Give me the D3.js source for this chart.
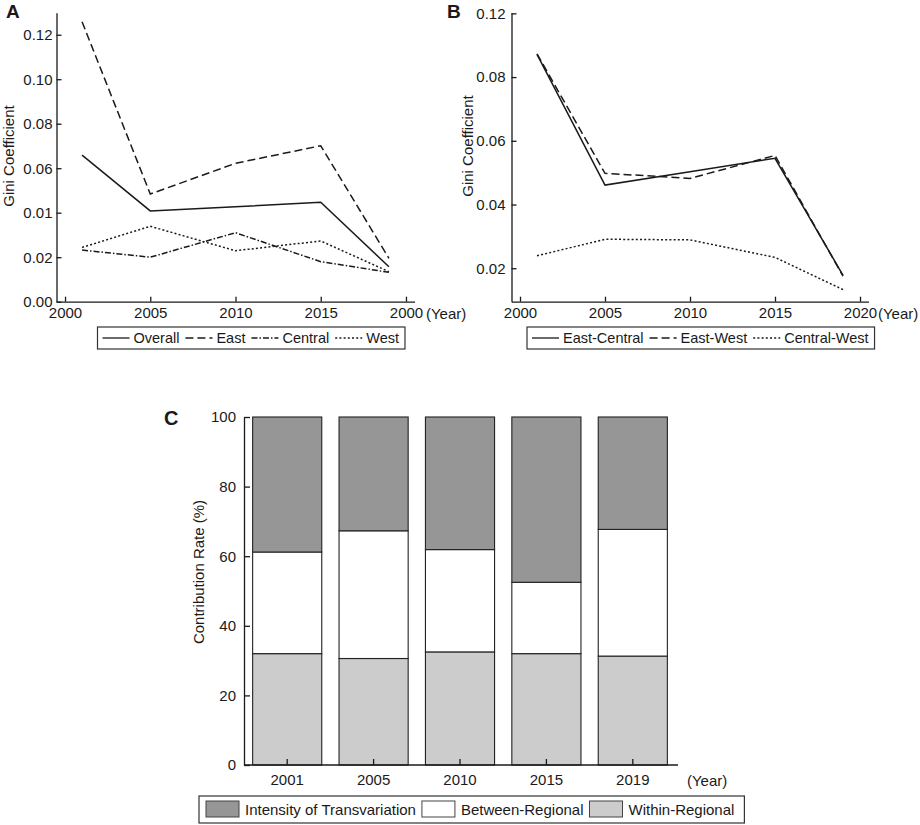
<!DOCTYPE html>
<meta charset="utf-8">
<script src="https://d3js.org/d3.v7.min.js"></script>
<style>
  body { margin: 0; background: #fff; }
  svg text { font-family: "Liberation Sans", Arial, sans-serif; fill: #1a1a1a; }
</style>
<div id="chart"></div>
<script>
    // ---- data ----
    var years = [2001, 2005, 2010, 2015, 2019];

    // panel A
    var overall = [0.0659, 0.0408, 0.0427, 0.0447, 0.0157];
    var east    = [0.1258, 0.0484, 0.0622, 0.0701, 0.0195];
    var central = [0.0232, 0.0200, 0.0310, 0.0180, 0.0132];
    var west    = [0.0244, 0.0339, 0.0229, 0.0273, 0.0135];
    var xTicksA = [2000, 2005, 2010, 2015, 2020];
    var xTickLabelsA = ["2000", "2005", "2010", "2015", "2000"];
    var yTicksA = [0, 0.02, 0.04, 0.06, 0.08, 0.10, 0.12];
    var yTickLabelsA = ["0.00", "0.02", "0.01", "0.06", "0.08", "0.10", "0.12"];

    // panel B
    var eastCentral = [0.0871, 0.0461, 0.0503, 0.0545, 0.0178];
    var eastWest    = [0.0873, 0.0498, 0.0482, 0.0554, 0.0175];
    var centralWest = [0.0239, 0.0291, 0.0289, 0.0234, 0.0133];
    var xTicksB = [2000, 2005, 2010, 2015, 2020];
    var xTickLabelsB = ["2000", "2005", "2010", "2015", "2020"];
    var yTicksB = [0.02, 0.04, 0.06, 0.08, 0.10];
    var yTickLabelsB = ["0.02", "0.04", "0.06", "0.08", "0.12"];

    // panel C (percent)
    var yearLabelsC = ["2001", "2005", "2010", "2015", "2019"];
    var withinRegional  = [32.0, 30.6, 32.5, 32.0, 31.3];
    var betweenRegional = [29.2, 36.7, 29.4, 20.5, 36.4];
    var transvariation  = [38.8, 32.7, 38.1, 47.5, 32.3];
    var yTicksC = [0, 20, 40, 60, 80, 100];

    var width = 920, height = 825;
    var ink = "#1a1a1a";

    var svg = d3.select("#chart").append("svg")
        .attr("width", width)
        .attr("height", height);

    function styleAxis(g) {
        g.selectAll("path.domain").attr("stroke", ink).attr("stroke-width", 1.3);
        g.selectAll(".tick line").attr("stroke", ink).attr("stroke-width", 1.3);
        g.selectAll(".tick text").attr("fill", ink).style("font-size", "15px")
            .style("font-family", "'Liberation Sans', Arial, sans-serif");
    }

    // line styles per series
    var dashSolid = null, dashLong = "8,4", dashDot = "6,2,1.5,2", dashDotted = "2,2.2";

    function linePanel(opt) {
        var x = d3.scaleLinear().domain([1999.5, 2020.5]).range(opt.xRange);
        var y = d3.scaleLinear().domain(opt.yDomain).range(opt.yRange);

        var line = d3.line()
            .x(function(d) { return x(d.year); })
            .y(function(d) { return y(d.v); });

        opt.series.forEach(function(s) {
            var pts = years.map(function(yr, i) { return {year: yr, v: s.values[i]}; });
            svg.append("path")
                .datum(pts)
                .attr("fill", "none")
                .attr("stroke", ink)
                .attr("stroke-width", 1.5)
                .attr("stroke-dasharray", s.dash)
                .attr("d", line);
        });

        var xAxis = svg.append("g")
            .attr("transform", "translate(0," + opt.yRange[0] + ")")
            .call(d3.axisBottom(x)
                .tickValues(opt.xTicks)
                .tickFormat(function(d, i) { return opt.xLabels[i]; })
                .tickSizeInner(-5).tickSizeOuter(0).tickPadding(6));
        styleAxis(xAxis);

        var yAxis = svg.append("g")
            .attr("transform", "translate(" + opt.xRange[0] + ",0)")
            .call(d3.axisLeft(y)
                .tickValues(opt.yTicks)
                .tickFormat(function(d, i) { return opt.yLabels[i]; })
                .tickSizeInner(-5).tickSizeOuter(0).tickPadding(opt.yPad));
        styleAxis(yAxis);

        svg.append("text")
            .attr("x", opt.yearX)
            .attr("y", opt.yRange[0] + 17)
            .style("font-size", "15px")
            .text("(Year)");

        svg.append("text")
            .attr("transform", "translate(" + opt.titleX + "," + opt.titleY + ") rotate(-90)")
            .attr("text-anchor", "middle")
            .attr("dominant-baseline", "central")
            .style("font-size", "15px")
            .text("Gini Coefficient");

        svg.append("text")
            .attr("x", opt.letterX).attr("y", 18)
            .style("font-size", "19px").style("font-weight", "bold")
            .text(opt.letter);

        // legend
        var lg = svg.append("g");
        var box = lg.append("rect")
            .attr("fill", "none").attr("stroke", "#333").attr("stroke-width", 1.2);
        var cx = opt.legendX + 5;
        var ly = 338;
        opt.series.forEach(function(s, i) {
            lg.append("line")
                .attr("x1", cx).attr("x2", cx + 27)
                .attr("y1", ly).attr("y2", ly)
                .attr("stroke", ink).attr("stroke-width", 1.3)
                .attr("stroke-dasharray", s.dash);
            cx += 31;
            var t = lg.append("text")
                .attr("x", cx).attr("y", ly + 5)
                .style("font-size", "14.5px")
                .text(s.name);
            cx += t.node().getComputedTextLength() + 6;
        });
        box.attr("x", opt.legendX).attr("y", 327)
            .attr("width", cx - opt.legendX)
            .attr("height", 22);
    }

    linePanel({
        letter: "A", letterX: 6,
        xRange: [56.5, 414.5],
        yDomain: [0, 0.1299], yRange: [301.7, 12.7],
        xTicks: xTicksA, xLabels: xTickLabelsA,
        yTicks: yTicksA, yLabels: yTickLabelsA, yPad: 4,
        yearX: 426, titleX: 8, titleY: 156,
        legendX: 97.5,
        series: [
            {name: "Overall", values: overall, dash: dashSolid},
            {name: "East", values: east, dash: dashLong},
            {name: "Central", values: central, dash: dashDot},
            {name: "West", values: west, dash: dashDotted}
        ]
    });

    linePanel({
        letter: "B", letterX: 447,
        xRange: [511.5, 868.5],
        yDomain: [0.0095, 0.1002], yRange: [301.7, 12.7],
        xTicks: xTicksB, xLabels: xTickLabelsB,
        yTicks: yTicksB, yLabels: yTickLabelsB, yPad: 6,
        yearX: 878, titleX: 467, titleY: 146,
        legendX: 527,
        series: [
            {name: "East-Central", values: eastCentral, dash: dashSolid},
            {name: "East-West", values: eastWest, dash: dashLong},
            {name: "Central-West", values: centralWest, dash: dashDotted}
        ]
    });

    // ---- panel C: stacked bars ----
    var xC = d3.scaleBand().domain(yearLabelsC).range([244, 676])
        .paddingInner(0.2).paddingOuter(0.1);
    var yC = d3.scaleLinear().domain([0, 100]).range([765, 417]);

    var layers = [
        {name: "Within-Regional", values: withinRegional, color: "#cccccc"},
        {name: "Between-Regional", values: betweenRegional, color: "#ffffff"},
        {name: "Intensity of Transvariation", values: transvariation, color: "#969696"}
    ];

    var rows = yearLabelsC.map(function(yr, i) {
        var r = {year: yr};
        layers.forEach(function(l) { r[l.name] = l.values[i]; });
        return r;
    });
    var stack = d3.stack().keys(layers.map(function(l) { return l.name; }));
    var stacked = stack(rows);

    stacked.forEach(function(s, li) {
        svg.append("g").selectAll("rect")
            .data(s)
            .enter()
            .append("rect")
            .attr("x", function(d) { return xC(d.data.year); })
            .attr("width", xC.bandwidth())
            .attr("y", function(d) { return yC(Math.min(d[1], 100)); })
            .attr("height", function(d) { return yC(d[0]) - yC(Math.min(d[1], 100)); })
            .attr("fill", layers[li].color)
            .attr("stroke", "#222")
            .attr("stroke-width", 1.1);
    });

    var xAxisC = svg.append("g")
        .attr("transform", "translate(0,765)")
        .call(d3.axisBottom(xC).tickSizeInner(-6).tickSizeOuter(0).tickPadding(9));
    xAxisC.select("path.domain").attr("d", "M244,0H678");
    styleAxis(xAxisC);

    var yAxisC = svg.append("g")
        .attr("transform", "translate(244,0)")
        .call(d3.axisLeft(yC).tickValues(yTicksC).tickFormat(d3.format("d"))
            .tickSizeInner(-6).tickSizeOuter(0).tickPadding(8));
    styleAxis(yAxisC);

    svg.append("text")
        .attr("x", 687).attr("y", 786)
        .style("font-size", "15px")
        .text("(Year)");

    svg.append("text")
        .attr("transform", "translate(198,572) rotate(-90)")
        .attr("text-anchor", "middle")
        .attr("dominant-baseline", "central")
        .style("font-size", "15px")
        .text("Contribution Rate (%)");

    svg.append("text")
        .attr("x", 164).attr("y", 425)
        .style("font-size", "20px").style("font-weight", "bold")
        .text("C");

    // legend C
    var lgC = svg.append("g");
    var boxC = lgC.append("rect")
        .attr("fill", "none").attr("stroke", "#333").attr("stroke-width", 1.2);
    var cxC = 206;
    layers.slice().reverse().forEach(function(l) {
        lgC.append("rect")
            .attr("x", cxC).attr("y", 801)
            .attr("width", 33).attr("height", 16)
            .attr("fill", l.color).attr("stroke", "#444").attr("stroke-width", 1);
        cxC += 39;
        var t = lgC.append("text")
            .attr("x", cxC).attr("y", 814.5)
            .style("font-size", "15px")
            .text(l.name);
        cxC += t.node().getComputedTextLength() + 6;
    });
    boxC.attr("x", 199).attr("y", 796).attr("width", cxC - 199 + 4).attr("height", 27);
</script>
